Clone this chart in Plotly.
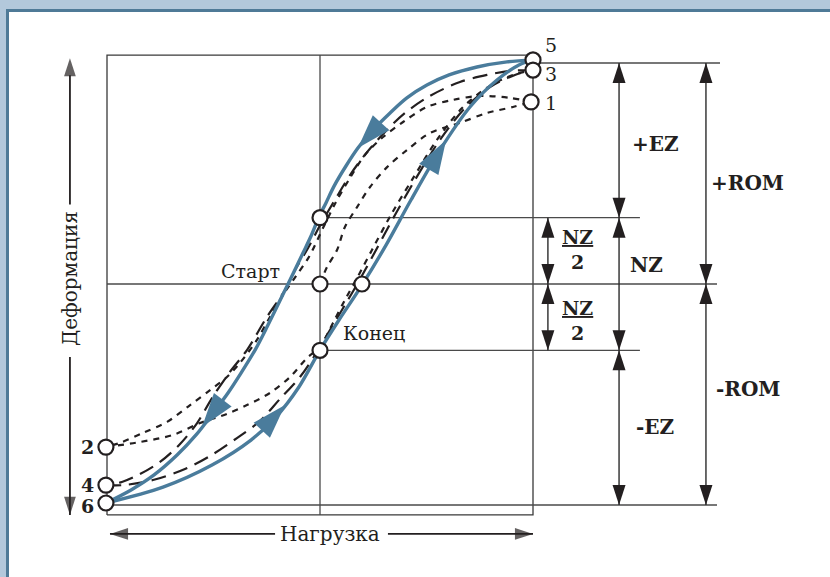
import plotly.graph_objects as go

# ---------------- data (load L, deformation D; ROM = 1) ----------------
ROM = 1.0
NZ_HALF = 0.30
BOX_L = [-1.0, 1.0]
BOX_D = [-1.045, 1.036]

# third cycle (blue, solid) : 6 -> 5 (loading) and 5 -> 6 (unloading)
blue_up_L = [-1.005, -0.737, -0.507, -0.324, -0.207, -0.099, 0.0, 0.089, 0.197, 0.310,
             0.427, 0.563, 0.704, 0.831, 0.934, 1.0]
blue_up_D = [-0.991, -0.919, -0.819, -0.706, -0.602, -0.466, -0.299, -0.163, -0.005,
             0.176, 0.380, 0.606, 0.801, 0.923, 0.991, 1.014]
blue_dn_L = [1.0, 0.878, 0.737, 0.606, 0.502, 0.408, 0.329, 0.249, 0.178, 0.122, 0.066,
             0.028, -0.005, -0.042, -0.080, -0.150, -0.249, -0.305, -0.371, -0.432,
             -0.498, -0.582, -0.671, -0.779, -0.887, -1.005]
blue_dn_D = [1.014, 1.005, 0.982, 0.946, 0.900, 0.842, 0.774, 0.697, 0.615, 0.534,
             0.443, 0.367, 0.303, 0.217, 0.140, 0.0, -0.195, -0.299, -0.403, -0.493,
             -0.579, -0.683, -0.774, -0.864, -0.932, -0.991]

# long dashed curves : 4 -> 3 and 3 -> 4
ld_up_L = [-1.005, -0.925, -0.784, -0.634, -0.516, -0.390, -0.282, -0.188, -0.094,
           -0.023, 0.047, 0.117, 0.178, 0.258, 0.352, 0.446, 0.563, 0.681, 0.798,
           0.915, 1.0]
ld_up_D = [-0.910, -0.910, -0.887, -0.837, -0.778, -0.697, -0.620, -0.520, -0.421,
           -0.321, -0.208, -0.095, 0.005, 0.145, 0.312, 0.471, 0.652, 0.796, 0.891,
           0.946, 0.968]
ld_dn_L = [1.0, 0.892, 0.784, 0.657, 0.516, 0.399, 0.305, 0.221, 0.141, 0.070, 0.009,
           -0.056, -0.117, -0.164, -0.249, -0.343, -0.423, -0.507, -0.577, -0.657,
           -0.751, -0.845, -0.930, -1.005]
ld_dn_D = [0.968, 0.964, 0.946, 0.914, 0.851, 0.774, 0.688, 0.597, 0.493, 0.380, 0.281,
           0.163, 0.063, -0.027, -0.149, -0.299, -0.398, -0.516, -0.629, -0.724,
           -0.805, -0.860, -0.896, -0.910]

# short dashed curves : start -> 1, 1 -> 2, 2 -> 3
sd_up1_L = [0.0, 0.033, 0.080, 0.117, 0.174, 0.235, 0.315, 0.408, 0.516, 0.657, 0.784,
            0.906, 0.991]
sd_up1_D = [0.0, 0.077, 0.154, 0.258, 0.348, 0.439, 0.529, 0.606, 0.683, 0.729, 0.774,
            0.801, 0.824]
sd_dn_L = [0.991, 0.892, 0.751, 0.624, 0.502, 0.390, 0.296, 0.211, 0.141, 0.075, 0.014,
           -0.052, -0.113, -0.174, -0.235, -0.296, -0.376, -0.437, -0.516, -0.610,
           -0.718, -0.831, -0.939, -1.005]
sd_dn_D = [0.824, 0.842, 0.851, 0.833, 0.801, 0.733, 0.665, 0.584, 0.480, 0.371, 0.253,
           0.122, 0.036, -0.050, -0.149, -0.253, -0.357, -0.421, -0.480, -0.548,
           -0.624, -0.674, -0.719, -0.738]
sd_up2_L = [-1.005, -0.845, -0.690, -0.563, -0.437, -0.343, -0.235, -0.141, -0.061, 0.0,
            0.061, 0.117, 0.169, 0.244, 0.338, 0.432, 0.549, 0.667, 0.789, 0.906, 1.0]
sd_up2_D = [-0.738, -0.715, -0.683, -0.629, -0.588, -0.548, -0.493, -0.421, -0.335,
            -0.285, -0.176, -0.072, 0.018, 0.154, 0.321, 0.471, 0.652, 0.796, 0.891,
            0.946, 0.968]

# direction arrows on the blue loop: (previous point, tip)
arrow_prev_L = [0.329, -0.432, -0.268, 0.493]
arrow_prev_D = [0.774, -0.493, -0.656, 0.489]
arrow_tip_L = [0.178, -0.554, -0.164, 0.592]
arrow_tip_D = [0.615, -0.647, -0.548, 0.652]

# marked states (open circles)
pt_names = ["5", "3", "1", "2", "4", "6", "top", "start", "right", "end"]
pt_L = [1.0, 1.0, 0.991, -1.005, -1.005, -1.005, 0.0, 0.0, 0.197, 0.0]
pt_D = [1.014, 0.968, 0.824, -0.738, -0.910, -0.991, NZ_HALF, 0.0, 0.0, -NZ_HALF]

# dimension arrows: (L position, from D, to D)
dim_L = [1.404, 1.812, 1.070, 1.070, 1.404, 1.404, 1.812]
dim_D0 = [NZ_HALF, 0.0, 0.0, -NZ_HALF, -NZ_HALF, -ROM, -ROM]
dim_D1 = [ROM, ROM, NZ_HALF, 0.0, NZ_HALF, -NZ_HALF, 0.0]

# ---------------- figure ----------------
BLUE = "#4a7c9c"
INK = "#231f20"
GREY = "#4a4a4a"
FONT = "DejaVu Serif"

fig = go.Figure()


def line(x, y, color=GREY, width=1.3, dash="solid", shape="linear"):
    fig.add_trace(go.Scatter(x=x, y=y, mode="lines", hoverinfo="skip",
                             line=dict(color=color, width=width, dash=dash,
                                       shape=shape, smoothing=0.9)))


# frame box and reference lines
line([BOX_L[0], BOX_L[1], BOX_L[1], BOX_L[0], BOX_L[0]],
     [BOX_D[0], BOX_D[0], BOX_D[1], BOX_D[1], BOX_D[0]], color="#3a3a3a", width=1.3)
line([0, 0], [BOX_D[0], BOX_D[1]])
line([-1.0, 1.864], [0, 0])
line([0, 1.502], [NZ_HALF, NZ_HALF])
line([0, 1.502], [-NZ_HALF, -NZ_HALF])
line([1.0, 1.878], [ROM, ROM])
line([-1.0, 1.864], [-ROM, -ROM])

# dimension arrows
for L, d0, d1 in zip(dim_L, dim_D0, dim_D1):
    fig.add_trace(go.Scatter(
        x=[L, L], y=[d0, d1], mode="lines+markers", hoverinfo="skip",
        line=dict(color="#2b2b2b", width=1.4),
        marker=dict(symbol="arrow", size=21, angle=[180, 0], color=INK,
                    line=dict(width=0))))

# axis arrows
AX_L = -1.174
AX_D = -1.131
for xs, ys, ang in [([AX_L, AX_L], [0.36, 1.022], 0),
                    ([AX_L, AX_L], [-0.33, -1.045], 180),
                    ([-0.211, -0.986], [AX_D, AX_D], 270),
                    ([0.319, 1.0], [AX_D, AX_D], 90)]:
    fig.add_trace(go.Scatter(x=xs, y=ys, mode="lines+markers", hoverinfo="skip",
                             line=dict(color=INK, width=1.8),
                             marker=dict(symbol="arrow", size=[0, 19], angle=ang,
                                         color=INK, line=dict(width=0))))

# dashed cycles
SHORT = "6px,6px"
LONG = "15px,8px"
line(sd_up1_L, sd_up1_D, color=INK, width=2.2, dash=SHORT, shape="spline")
line(sd_dn_L, sd_dn_D, color=INK, width=2.2, dash=SHORT, shape="spline")
line(sd_up2_L, sd_up2_D, color=INK, width=2.2, dash=SHORT, shape="spline")
line(ld_up_L, ld_up_D, color=INK, width=2.2, dash=LONG, shape="spline")
line(ld_dn_L, ld_dn_D, color=INK, width=2.2, dash=LONG, shape="spline")

# blue loop
line(blue_up_L, blue_up_D, color=BLUE, width=3.4, shape="spline")
line(blue_dn_L, blue_dn_D, color=BLUE, width=3.4, shape="spline")
for pl, pd, tl, td in zip(arrow_prev_L, arrow_prev_D, arrow_tip_L, arrow_tip_D):
    fig.add_trace(go.Scatter(x=[pl, tl], y=[pd, td], mode="markers", hoverinfo="skip",
                             marker=dict(symbol="arrow", size=[0, 36], opacity=[0, 1],
                                         angleref="previous", color=BLUE,
                                         line=dict(width=0))))

# state circles
fig.add_trace(go.Scatter(x=pt_L, y=pt_D, mode="markers", hoverinfo="skip",
                         marker=dict(symbol="circle", size=15, color="white",
                                     line=dict(color=INK, width=2.2))))

# texts
ann = []


def txt(x, y, s, size=19, xanchor="center", angle=0):
    ann.append(dict(x=x, y=y, xref="x", yref="y", text=s, showarrow=False,
                    xanchor=xanchor, yanchor="middle", textangle=angle,
                    font=dict(family=FONT, size=size, color=INK)))


txt(1.047, 1.081, "5", xanchor="left")
txt(1.047, 0.950, "3", xanchor="left")
txt(1.047, 0.819, "1", xanchor="left")
txt(-1.052, -0.738, "<b>2</b>", xanchor="right")
txt(-1.052, -0.910, "<b>4</b>", xanchor="right")
txt(-1.052, -1.005, "<b>6</b>", xanchor="right")
txt(-0.324, 0.059, "Старт")
txt(0.254, -0.222, "Конец")
txt(1.573, 0.633, "<b>+EZ</b>", size=20)
txt(2.009, 0.457, "<b>+ROM</b>", size=20)
txt(1.535, 0.086, "<b>NZ</b>", size=20)
txt(1.211, 0.154, "<b><u>NZ</u><br>2</b>", size=19)
txt(1.211, -0.163, "<b><u>NZ</u><br>2</b>", size=19)
txt(1.573, -0.647, "<b>-EZ</b>", size=20)
txt(2.009, -0.475, "<b>-ROM</b>", size=20)
txt(AX_L, 0.027, "Деформация", size=20, angle=-90)
txt(0.047, AX_D, "Нагрузка", size=20)

fig.update_layout(
    width=830, height=577,
    margin=dict(l=9, r=0, t=12, b=0),
    paper_bgcolor="#b3c8db", plot_bgcolor="white",
    showlegend=False, annotations=ann,
    xaxis=dict(range=[-1.4601, 2.3944], showgrid=False, zeroline=False,
               showticklabels=False, ticks="", side="top", showline=True,
               linecolor="#4f7a97", linewidth=3, fixedrange=True),
    yaxis=dict(range=[-1.3258, 1.2308], showgrid=False, zeroline=False,
               showticklabels=False, ticks="", showline=True,
               linecolor="#4f7a97", linewidth=3, fixedrange=True),
)

fig.write_html("out.html")
